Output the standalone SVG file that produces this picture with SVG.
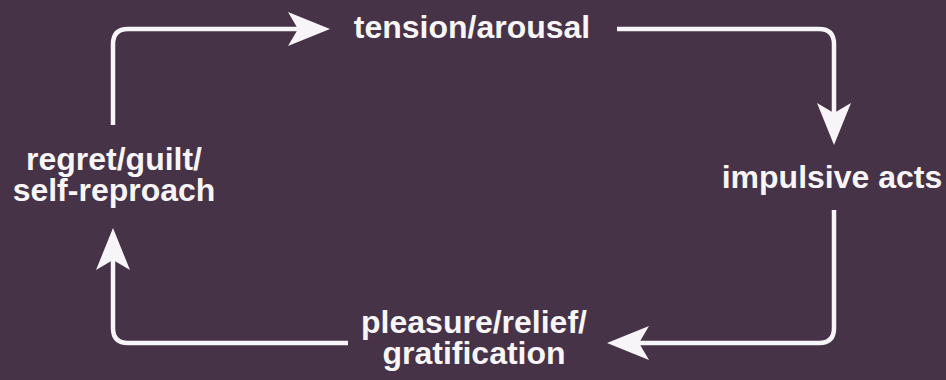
<svg xmlns="http://www.w3.org/2000/svg" width="946" height="380" viewBox="0 0 946 380">
  <defs>
    <style>
      .lbl { font-family: "Liberation Sans", Arial, sans-serif; font-weight: bold; font-size: 32px; fill: #f7f5f7; text-anchor: middle; }
      .conn { fill: none; stroke: #f7f5f7; stroke-width: 4.5; }
    </style>
    <marker id="head" markerUnits="userSpaceOnUse" markerWidth="44" markerHeight="36" viewBox="0 -18 44 36" refX="10" refY="0" orient="auto">
      <path d="M0,-17 L42,0 L0,17 L10,0 Z" fill="#f7f5f7"/>
    </marker>
  </defs>
  <rect width="946" height="380" fill="#463347"/>
  <g id="connectors">
    <path class="conn" d="M113,125 V44 Q113,29 128,29 H298" marker-end="url(#head)"/>
    <path class="conn" d="M617,29 H819 Q834,29 834,44 V113" marker-end="url(#head)"/>
    <path class="conn" d="M834,210 V328 Q834,343 819,343 H639" marker-end="url(#head)"/>
    <path class="conn" d="M348,343 H128 Q113,343 113,328 V260" marker-end="url(#head)"/>
  </g>
  <g id="tension">
    <text class="lbl" x="472" y="38">tension/arousal</text>
  </g>
  <g id="impulsive">
    <text class="lbl" x="832" y="188">impulsive acts</text>
  </g>
  <g id="pleasure">
    <text class="lbl" x="474" y="333">pleasure/relief/</text>
    <text class="lbl" x="474" y="364">gratification</text>
  </g>
  <g id="regret">
    <text class="lbl" x="114" y="170">regret/guilt/</text>
    <text class="lbl" x="114" y="201">self-reproach</text>
  </g>
</svg>
